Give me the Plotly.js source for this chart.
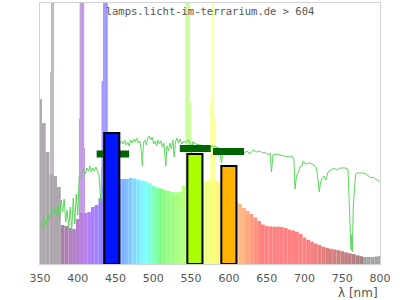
<!DOCTYPE html>
<html>
<head>
<meta charset="utf-8">
<script src="https://cdn.plot.ly/plotly-3.0.1.min.js"></script>
<style>html,body{margin:0;padding:0;background:#fff;}#chart{width:400px;height:300px;}</style>
</head>
<body>
<div id="chart"></div>
<script>
// Lamp spectrum (relative intensity), 5 nm steps
const specNm = [350,355,360,365,370,375,380,385,390,395,400,405,410,415,420,425,430,435,440,445,450,455,460,465,470,475,480,485,490,495,500,505,510,515,520,525,530,535,540,545,550,555,560,565,570,575,580,585,590,595,600,605,610,615,620,625,630,635,640,645,650,655,660,665,670,675,680,685,690,695,700,705,710,715,720,725,730,735,740,745,750,755,760,765,770,775,780,785,790,795,800];
const specVal = [165,141,112,90,88,77,39,38,36,35,45,51,51,52,57,59,66,79,85,85,85,85,85,85,86,85.5,84.5,83.5,83,81,78,76.5,75.5,74,73,72,71.5,72,78,83,82,82,82,82,82,84,86,83,80,75,70,66,62,60,56,53,50,46.5,43,39.5,38,37.5,37.3,37.3,37,36,34.5,33.5,32.3,30,26.5,24,22.3,20.5,19,17.3,16.2,15.2,14.5,13.8,12.8,11.7,10.7,10,8.7,7.8,7,7,7,7.5,8];

// Narrow emission lines (1 nm resolution)
const lineNm  = [364,365,366,367,368, 402,403,404,405,406,407,408,409, 432,433,434,435,436,437,438,439, 543,544,545,546,547,548,549,550, 576,577,578,579,580,581,582];
const lineVal = [192,400,400,400,400, 145,400,400,400,400,400,400,116, 183,183,400,400,400,400,400,400, 400,400,400,400,400,400,162,162, 162,162,400,400,400,146,146];

// Reference (daylight) spectrum
const refNm  = [352,354,356,358,360,362,364,366,368,370,372,374,376,378,380,382,384,386,388,390,392,394,396,398,400,402,404,406,408,410,412,414,416,418,420,422,424,426,428,429.5,430.6,431.4,458,460,462,464,466,468,470,472,474,476,478,480,482,484,485.5,486.8,488.8,490.8,492.6,494.6,496.5,498.5,500.5,502.5,504.5,506,508,510,512,514,516.5,518,520,522,524,526,527.6,529.3,531.3,533.3,535.3,538,540.6,543.2,545.9,548.5,550.8,552,556.5,561.8,568.4,575,579,583,587,590.2,592.2,601.5,612,620,624,628,632,636.8,640.8,644.4,647.8,651.9,654.6,656.4,658.3,662.3,667.6,672.9,678.2,683.5,686.1,687.5,689.5,692.1,694,696.7,698,702,707.3,712.6,715.9,717.9,719.6,721.2,723.2,725.9,728.5,731.2,735.1,739.1,743.1,747,751,755,757.7,759.4,760.7,761.6,762.6,763.4,764.7,766.3,767.7,769.6,773.5,777.5,781.5,785.5,788.1,790.7,793.4,796,799.3];
const refVal = [42,34,46,38,49,44,51,55,50,56,48,58,45,64,52,65,42,54,35,57,33,66,40,70,49,88,86,92,94,90,96,93,98,92,96,93,97,92,89,74,62,96,123,120,124,119,122,118,124,121,125,122,126,121,123,114,98,121,124,119,126,128,124,127,120,123,118,124,120,123,117,121,98,118,113,121,115,124,107,122,126,121,125,120,123,121,124,122,108,122,120,119,118,117,118,117,116,101,115,114,113,111,113,110,114,112,113,111,112,109,111,92,109,110,109,108,107,108,104,75,88,92,97,98,103,100,101,99,96,84,72,81,85,88,84,92,94,96,94,96,96,96,94,56,24,14,29,12,59,79,90,91,91,91,90,88,86,87,85,84,83];

// Band reference levels (dark green markers)
const bandStart = [425, 535, 579];
const bandEnd   = [468, 576, 620];
const bandLevel = [110, 115.5, 112.5];

// Measured band values (bars)
const barNm  = [445, 555, 600];
const barVal = [131, 110, 98];
const barColors = ['#0016ff', '#aaff00', '#ffb300'];

const tickVals = [350,400,450,500,550,600,650,700,750,800];

function wlColor(nm){
  if (nm < 380) return '#aea8ae';
  if (nm >= 780) return '#a4a4a4';
  let r=0,g=0,b=0;
  if (nm < 440){ r=(440-nm)/60; b=1; }
  else if (nm < 490){ g=(nm-440)/50; b=1; }
  else if (nm < 510){ g=1; b=(510-nm)/20; }
  else if (nm < 580){ r=(nm-510)/70; g=1; }
  else if (nm < 645){ r=1; g=(645-nm)/65; }
  else { r=1; }
  let f=1;
  if (nm < 420) f = 0.3 + 0.7*(nm-380)/40;
  else if (nm > 700) f = 0.3 + 0.7*(780-nm)/80;
  const m = v => Math.round(127.5 + 127.5*v*f);
  return 'rgb(' + m(r) + ',' + m(g) + ',' + m(b) + ')';
}

const markX = [], markY = [];
for (let i=0;i<bandStart.length;i++){
  markX.push(bandStart[i], bandEnd[i], null);
  markY.push(bandLevel[i], bandLevel[i], null);
}

const traces = [
  {type:'bar', x:specNm, y:specVal, width:5, marker:{color:specNm.map(wlColor), line:{width:0}}, hoverinfo:'skip'},
  {type:'bar', x:lineNm, y:lineVal, width:1, marker:{color:lineNm.map(wlColor), line:{width:0}}, hoverinfo:'skip'},
  {type:'scatter', mode:'lines', x:refNm, y:refVal, line:{color:'#5cd65c', width:1}, hoverinfo:'skip'},
  {type:'scatter', mode:'lines', x:markX, y:markY, connectgaps:false, line:{color:'#006400', width:7}, hoverinfo:'skip'},
  {type:'bar', x:barNm, y:barVal, width:20, xaxis:'x2', yaxis:'y2', marker:{color:barColors, line:{color:'#000', width:2}}, hoverinfo:'skip'}
];

const layout = {
  width:400, height:300,
  margin:{l:40, r:20, t:3, b:36},
  paper_bgcolor:'#fff', plot_bgcolor:'#fff',
  showlegend:false,
  barmode:'overlay',
  xaxis:{range:[350,800], tickvals:tickVals, ticks:'', showgrid:false, zeroline:false,
         showline:true, mirror:true, linecolor:'#d3d3d3', linewidth:1, ticklabelstandoff:4,
         tickfont:{family:'DejaVu Sans', size:11, color:'#555'}},
  yaxis:{range:[0,261], showticklabels:false, ticks:'', showgrid:false, zeroline:false,
         showline:true, mirror:true, linecolor:'#d3d3d3', linewidth:1},
  xaxis2:{overlaying:'x', range:[350,800], visible:false},
  yaxis2:{overlaying:'y', range:[0,261], visible:false},
  title:{text:'lamps.licht-im-terrarium.de > 604', font:{family:'DejaVu Sans Mono', size:10.5, color:'#555'},
         x:0.5, xanchor:'center', xref:'paper', y:1-11/300, yanchor:'middle', yref:'container'},
  annotations:[{text:'λ [nm]', xref:'paper', yref:'paper', x:1, xanchor:'right', y:0, yanchor:'middle', yshift:-29,
                showarrow:false, font:{family:'DejaVu Sans', size:12, color:'#555'}}]
};

Plotly.newPlot('chart', traces, layout, {displayModeBar:false, staticPlot:true});
</script>
</body>
</html>
